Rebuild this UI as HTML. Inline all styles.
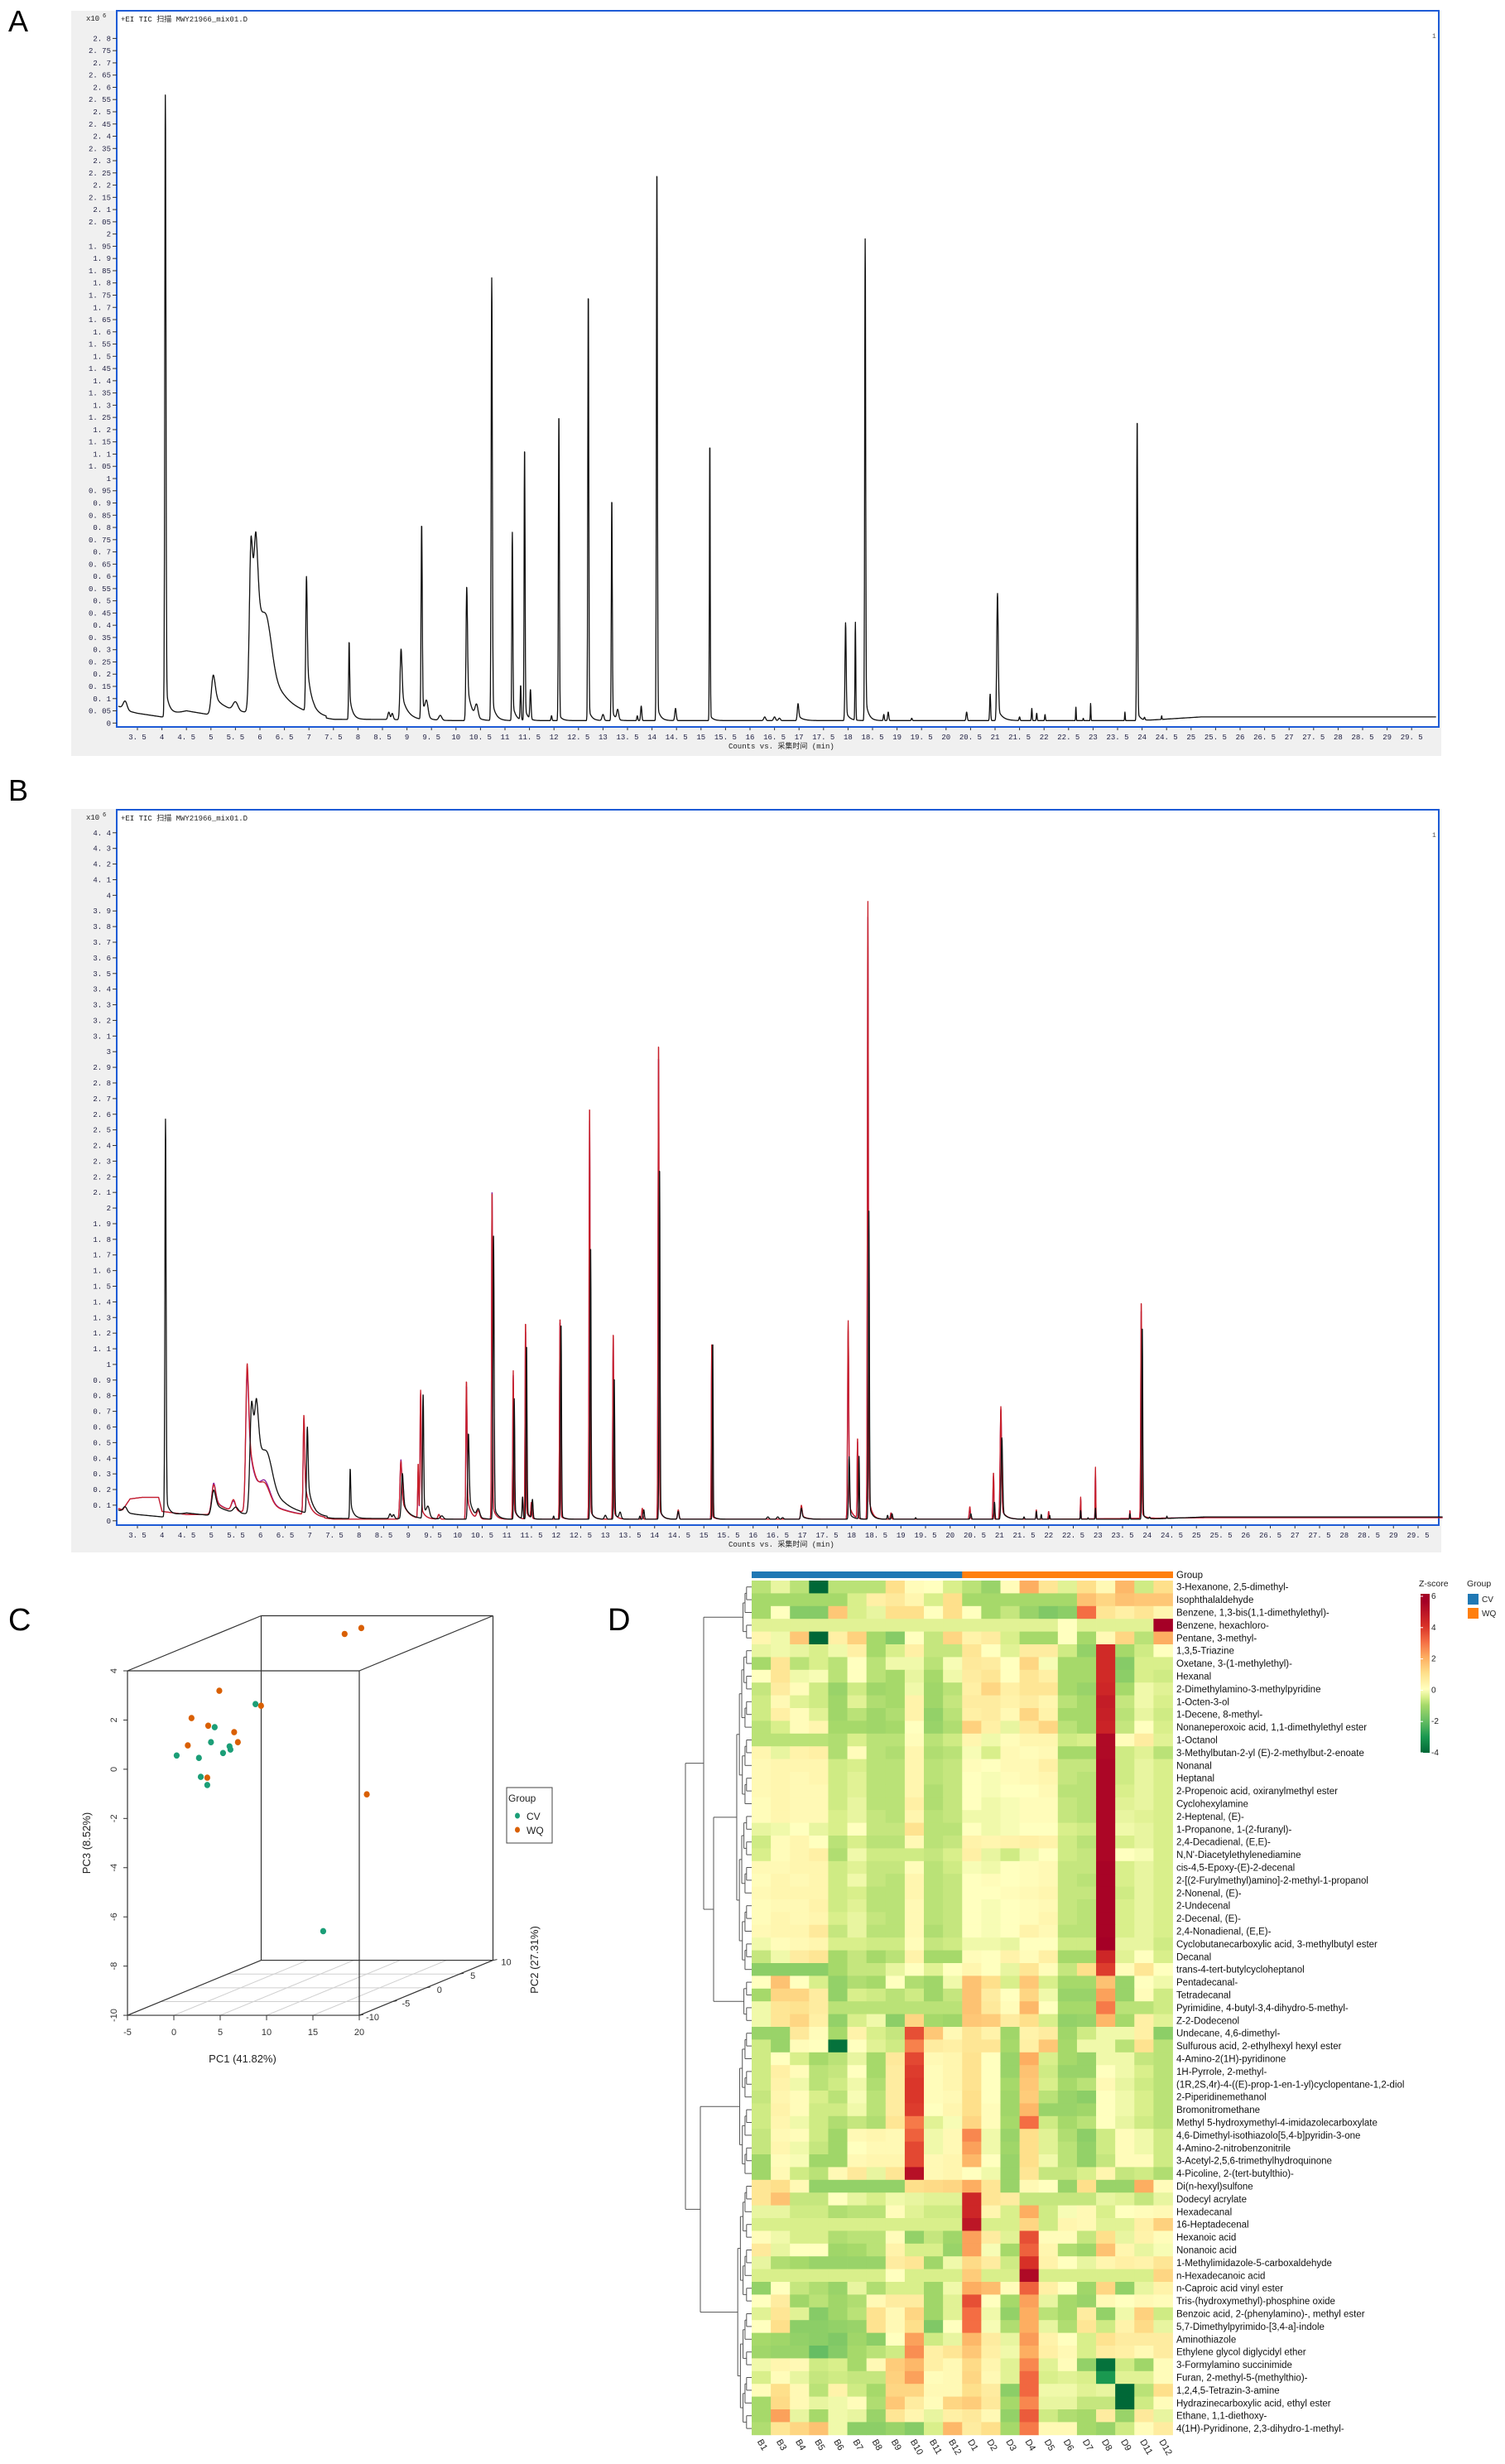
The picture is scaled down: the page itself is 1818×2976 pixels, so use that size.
<!DOCTYPE html>
<html><head><meta charset="utf-8"><style>
html,body{margin:0;padding:0;background:#fff;}
svg{display:block;}
text{font-family:"Liberation Sans",sans-serif;}
.mono{font-family:"Liberation Mono","Noto Sans CJK SC",monospace;}
.narrow{font-family:"Liberation Sans Narrow","Liberation Sans",sans-serif;}
</style></head><body>
<svg id="fig" xmlns="http://www.w3.org/2000/svg" width="1818" height="2976" viewBox="0 0 1818 2976">
<defs>
<linearGradient id="zgrad" x1="0" y1="1" x2="0" y2="0">
<stop offset="0" stop-color="#006837"/><stop offset="0.1" stop-color="#1a9850"/><stop offset="0.2" stop-color="#66bd63"/><stop offset="0.3" stop-color="#a6d96a"/><stop offset="0.35" stop-color="#d9ef8b"/><stop offset="0.4" stop-color="#ffffbf"/><stop offset="0.5" stop-color="#fee08b"/><stop offset="0.6" stop-color="#fdae61"/><stop offset="0.7" stop-color="#f46d43"/><stop offset="0.8" stop-color="#d73027"/><stop offset="0.95" stop-color="#a50026"/><stop offset="1" stop-color="#a50026"/>
</linearGradient>
</defs>
<text x="10" y="38" font-size="36">A</text>
<text x="10" y="967" font-size="36">B</text>
<text x="10" y="1969" font-size="38">C</text>
<text x="734" y="1969" font-size="38">D</text>
</svg>
<script>
// ---------- Chromatogram data (A & B) ----------
const blackBaseT=[3.1,3.3,3.5,4.0,4.5,4.95,5.3,5.7,6.5,6.85,7.5,8.5,10,12,14,16,18,20,22,24,25.2,30.1];
const blackBaseV=[0.07,0.05,0.04,0.025,0.05,0.035,0.04,0.04,0.04,0.03,0.015,0.015,0.01,0.01,0.01,0.01,0.01,0.01,0.01,0.01,0.025,0.025];
const blackPeakT=[3.25,4.07,5.05,5.5,5.82,5.92,6.15,6.95,7.82,8.63,8.7,8.88,9.3,9.4,9.68,10.22,10.42,10.73,11.15,11.32,11.4,11.52,11.95,12.1,12.7,13.0,13.18,13.3,13.7,13.78,14.1,14.48,15.18,16.3,16.5,16.6,16.98,17.95,18.15,18.35,18.73,18.82,19.3,20.42,20.9,21.05,21.5,21.75,21.85,22.02,22.65,22.8,22.95,23.65,23.9,24.05,24.4];
const blackPeakH=[0.035,2.54,0.16,0.035,0.7,0.5,0.2,0.55,0.32,0.03,0.025,0.29,0.8,0.06,0.02,0.55,0.05,1.81,0.77,0.14,1.12,0.12,0.02,1.26,1.76,0.025,0.91,0.04,0.02,0.06,2.27,0.05,1.15,0.015,0.015,0.01,0.07,0.4,0.4,1.97,0.025,0.035,0.01,0.035,0.11,0.52,0.015,0.05,0.03,0.025,0.055,0.01,0.07,0.035,1.24,0.01,0.015];
const blackPeakW=[0.04,0.012,0.04,0.05,0.035,0.04,0.1,0.015,0.01,0.02,0.02,0.02,0.012,0.03,0.03,0.015,0.03,0.012,0.01,0.01,0.01,0.012,0.01,0.01,0.01,0.02,0.01,0.02,0.01,0.012,0.01,0.015,0.008,0.02,0.02,0.02,0.015,0.012,0.008,0.01,0.01,0.012,0.01,0.012,0.01,0.015,0.01,0.008,0.008,0.008,0.006,0.006,0.006,0.006,0.01,0.01,0.006];
const blackPeakTail=[0,0.05,0.5,0,0.5,0.6,0.3,0.4,0.35,0,0,0.4,0.1,0,0,0.3,0,0.05,0.1,0,0.05,0,0,0.02,0.03,0,0.05,0,0,0,0.03,0,0.02,0,0,0,0.3,0.1,0,0.05,0,0,0,0,0,0.1,0,0,0,0,0,0,0,0,0.03,0,0];
const redBaseT=[3.1,3.2,3.35,3.6,3.93,4.0,4.5,5.0,5.6,6.5,6.85,7.5,10,14,18,22,25.2,30.1];
const redBaseV=[0.08,0.07,0.14,0.15,0.15,0.06,0.04,0.04,0.05,0.04,0.03,0.01,0.01,0.01,0.01,0.01,0.02,0.02];
const redPeakT=[5.05,5.45,5.73,6.1,6.88,8.85,9.2,9.25,9.62,10.18,10.42,10.7,11.13,11.38,11.5,12.08,12.68,13.16,13.75,14.08,14.48,15.16,16.98,17.93,18.12,18.33,18.8,20.4,20.88,21.03,21.75,22.0,22.65,22.95,23.65,23.88];
const redPeakH=[0.19,0.07,0.95,0.12,0.64,0.37,0.35,0.82,0.03,0.89,0.05,2.12,0.95,1.27,0.1,1.3,2.67,1.2,0.07,3.08,0.06,1.15,0.09,1.27,0.52,3.95,0.04,0.08,0.3,0.72,0.06,0.05,0.14,0.33,0.05,1.4];
const purplePeakH=[0.2,0.06,0.9,0.14,0.62,0.38,0.3,0.8,0.03,0.86,0.05,2.13,0.92,1.22,0.1,1.28,2.6,1.18,0.06,3.0,0.05,1.12,0.08,1.2,0.5,3.85,0.04,0.07,0.28,0.7,0.05,0.05,0.13,0.3,0.05,1.35];
const redPeakW=[0.04,0.04,0.03,0.1,0.015,0.02,0.01,0.012,0.02,0.012,0.03,0.01,0.01,0.01,0.012,0.01,0.01,0.01,0.012,0.01,0.015,0.008,0.015,0.012,0.008,0.01,0.012,0.012,0.01,0.015,0.008,0.008,0.006,0.006,0.006,0.01];
const redPeakTail=[0.5,0,0.6,0.3,0.4,0.4,0,0.1,0,0.2,0,0.05,0.1,0.05,0,0.02,0.03,0.05,0,0.03,0,0.02,0.3,0.1,0,0.05,0,0,0,0.1,0,0,0,0,0,0.03];
const yTicksA=[]; for(let i=0;i<=56;i++) yTicksA.push(i*0.05);
const yTicksB=[]; for(let i=0;i<=44;i++) yTicksB.push(i*0.1);
const xTicks=[]; for(let i=0;i<=52;i++) xTicks.push(3.5+i*0.5);

// ---------- PCA data ----------
const pcaGroup=['WQ','WQ','WQ','WQ','WQ','WQ','WQ','WQ','WQ','WQ','WQ','CV','CV','CV','CV','CV','CV','CV','CV','CV','CV','CV'];
const pcaPC1=[4.0,5.8,13.6,1.3,5.8,-1.7,0.1,2.9,3.3,-2.1,0.0,5.2,0.8,0.4,2.4,2.5,1.7,-3.3,-0.9,-0.7,0.0,8.9];
const pcaPC2=[10,10,0,-5,-5,-5,-5,-5,-5,-5,-5,-5,-5,-5,-5,-5,-5,-5,-5,-5,-5,0];
const pcaPC3=[3.26,3.5,-2.14,2.63,2.02,1.52,1.21,0.95,0.54,0.41,-0.9,2.09,1.15,0.54,0.37,0.24,0.1,0.0,-0.1,-0.87,-1.2,-7.7];
const pc1Ticks=[-5,0,5,10,15,20];
const pc2Ticks=[-10,-5,0,5,10];
const pc3Ticks=[4,2,0,-2,-4,-6,-8,-10];

// ---------- Heatmap data ----------
const hmCols=['B1','B3','B4','B5','B6','B7','B8','B9','B10','B11','B12','D1','D2','D3','D4','D5','D6','D7','D8','D9','D11','D12'];
const hmGroups=['CV','CV','CV','CV','CV','CV','CV','CV','CV','CV','CV','WQ','WQ','WQ','WQ','WQ','WQ','WQ','WQ','WQ','WQ','WQ'];
const hmRows=['3-Hexanone, 2,5-dimethyl-','Isophthalaldehyde','Benzene, 1,3-bis(1,1-dimethylethyl)-','Benzene, hexachloro-','Pentane, 3-methyl-','1,3,5-Triazine','Oxetane, 3-(1-methylethyl)-','Hexanal','2-Dimethylamino-3-methylpyridine','1-Octen-3-ol','1-Decene, 8-methyl-','Nonaneperoxoic acid, 1,1-dimethylethyl ester','1-Octanol','3-Methylbutan-2-yl (E)-2-methylbut-2-enoate','Nonanal','Heptanal','2-Propenoic acid, oxiranylmethyl ester','Cyclohexylamine','2-Heptenal, (E)-','1-Propanone, 1-(2-furanyl)-','2,4-Decadienal, (E,E)-','N,N\'-Diacetylethylenediamine','cis-4,5-Epoxy-(E)-2-decenal','2-[(2-Furylmethyl)amino]-2-methyl-1-propanol','2-Nonenal, (E)-','2-Undecenal','2-Decenal, (E)-','2,4-Nonadienal, (E,E)-','Cyclobutanecarboxylic acid, 3-methylbutyl ester','Decanal','trans-4-tert-butylcycloheptanol','Pentadecanal-','Tetradecanal','Pyrimidine, 4-butyl-3,4-dihydro-5-methyl-','Z-2-Dodecenol','Undecane, 4,6-dimethyl-','Sulfurous acid, 2-ethylhexyl hexyl ester','4-Amino-2(1H)-pyridinone','1H-Pyrrole, 2-methyl-','(1R,2S,4r)-4-((E)-prop-1-en-1-yl)cyclopentane-1,2-diol','2-Piperidinemethanol','Bromonitromethane','Methyl 5-hydroxymethyl-4-imidazolecarboxylate','4,6-Dimethyl-isothiazolo[5,4-b]pyridin-3-one','4-Amino-2-nitrobenzonitrile','3-Acetyl-2,5,6-trimethylhydroquinone','4-Picoline, 2-(tert-butylthio)-','Di(n-hexyl)sulfone','Dodecyl acrylate','Hexadecanal','16-Heptadecenal','Hexanoic acid','Nonanoic acid','1-Methylimidazole-5-carboxaldehyde','n-Hexadecanoic acid','n-Caproic acid vinyl ester','Tris-(hydroxymethyl)-phosphine oxide','Benzoic acid, 2-(phenylamino)-, methyl ester','5,7-Dimethylpyrimido-[3,4-a]-indole','Aminothiazole','Ethylene glycol diglycidyl ether','3-Formylamino succinimide','Furan, 2-methyl-5-(methylthio)-','1,2,4,5-Tetrazin-3-amine','Hydrazinecarboxylic acid, ethyl ester','Ethane, 1,1-diethoxy-','4(1H)-Pyridinone, 2,3-dihydro-1-methyl-'];
const hmValues=[
[-0.8,-0.3,-0.8,-4,-0.8,-0.8,-0.8,1,0.1,0,-0.5,-0.8,-1.2,0.1,2,0.8,-0.4,1,0.2,1.8,-0.6,1],
[-1,-1,-1,-1,-1,-0.5,0.5,0.7,0.3,-0.5,1,-1,-1,-1,-1,-1,-1,1.6,1.2,1.6,1.5,1.5],
[-1,0,-1.5,-1.5,1.5,-0.5,-0.3,1,1,0,1,0,-1,-0.7,-1.2,-1.6,-1.4,3,0.8,0.5,0.8,0.3],
[-0.4,-0.4,-0.4,-0.4,-0.4,-0.4,-0.4,-0.4,-0.4,-0.4,-0.4,-0.4,-0.4,-0.4,-0.4,-0.4,0,-0.4,-0.4,-0.4,-0.4,5.8],
[0.3,-0.2,1.5,-4,0.5,1.3,-1,-1.5,0,-0.7,1.2,0.4,0.6,-0.5,-1,-1,0,-1,0.2,1.2,-0.8,2],
[-0.3,-0.2,-0.3,-0.5,-0.2,0.5,-1,-0.5,0.5,-0.7,-0.7,0.8,0,-0.4,0.6,0.6,-0.6,-1.3,4.2,-1,-0.6,0],
[-1,0.8,-0.8,-0.5,-0.8,0,-0.8,-0.2,-0.2,-0.8,-0.1,0.7,0.6,0,1.2,-0.1,-1,-1,4.2,-1.5,-0.5,-0.5],
[0,0.8,-0.2,-0.1,-0.8,0,-0.8,-1,-0.3,-1,-0.2,0.6,0.8,0,0.8,0.5,-1,-1,4.2,-1.4,-0.5,-0.6],
[-0.7,0.6,0.1,-0.6,-1.2,-0.6,-1.1,-1,-0.2,-1.1,-0.8,0.5,1.2,0.5,0.8,0.8,-1,-1.2,4.3,-1,-0.2,-0.4],
[-0.6,0.2,-0.4,-0.6,-1.1,-0.4,-0.9,-1,0.4,-1.1,-0.7,0.6,0.6,0.4,0.6,0.3,-0.8,-1,4.6,-0.7,-0.2,-0.5],
[-0.6,0.5,0.1,-0.4,-1.1,-0.8,-1.1,-0.9,0.4,-1.3,-0.8,0.5,0.6,0.2,1.2,0.4,-1,-1,4.5,-0.8,-0.3,-0.6],
[-0.8,-0.5,0.1,0.3,-1,-1,-1.1,-1,0,-1.2,-0.9,1.3,0.5,-0.3,0.7,1.2,-0.8,-1,4.4,-0.7,0,-0.5],
[-0.8,-0.8,-0.8,-0.8,-0.9,-0.5,-0.8,-0.8,0.1,-0.8,-0.6,0.3,-0.2,0.1,0.3,0.3,-0.6,-0.5,5.2,0.1,0.6,-0.4],
[0.3,-0.3,0.4,0.5,-0.9,0.1,-0.8,-0.9,0.3,-0.9,-0.8,-0.1,-0.5,0.2,0.1,0.2,-1,-1,5.2,-0.6,-0.4,-0.8],
[0.2,0.3,0.3,0.3,-0.6,-0.5,-0.8,-0.8,0.3,-0.8,-0.7,0.1,0,0.2,0.2,0.5,-0.7,-0.7,5.3,-0.6,-0.3,-0.5],
[0.2,0.3,0.2,0.3,-0.6,-0.4,-0.8,-0.8,0.3,-0.8,-0.7,0,-0.1,0.1,0.2,0.3,-0.7,-0.8,5.3,-0.6,-0.3,-0.5],
[0.2,0.3,0.2,0.2,-0.6,-0.4,-0.8,-0.8,0.3,-0.9,-0.7,0,-0.1,0,0,0.2,-0.8,-0.8,5.3,-0.5,-0.3,-0.5],
[0.1,0.3,0.2,0.2,-0.6,-0.3,-0.8,-0.8,0.5,-0.9,-0.7,0,-0.2,-0.1,0.1,0.1,-0.7,-0.8,5.3,-0.4,-0.3,-0.5],
[0.1,0.3,0.2,0.2,-0.5,-0.3,-0.7,-0.8,0.3,-0.8,-0.7,-0.2,-0.2,-0.1,0.1,0.1,-0.7,-0.8,5.3,-0.3,-0.4,-0.5],
[-0.3,-0.2,0,-0.3,-0.5,0,-0.7,-0.7,0.9,-0.8,-0.8,0,-0.2,-0.1,0,0,-0.5,-0.6,5.3,-0.2,-0.3,-0.5],
[-0.6,0.1,0.3,0,-0.8,-0.5,-0.8,-0.8,0.2,-0.8,-0.7,0.4,0.3,0.4,0.5,0.4,-0.6,-0.8,5.3,-0.5,-0.3,-0.5],
[-0.5,0.1,0.3,0.5,-0.9,-0.2,-0.6,-0.6,-0.6,-0.7,-0.5,0.5,-0.3,-0.6,-0.2,0,-0.6,-0.7,5.3,0,-0.1,-0.5],
[0.2,0.2,0.3,0.3,-0.6,-0.4,-0.7,-0.7,0.1,-0.8,-0.6,-0.1,-0.2,0,0.1,0.2,-0.7,-0.7,5.4,-0.5,-0.3,-0.5],
[0.1,0.3,0.2,0.3,-0.6,-0.2,-0.7,-0.8,0.3,-0.8,-0.7,0,0.1,0,0.1,0.2,-0.7,-0.8,5.4,-0.5,-0.3,-0.5],
[0.2,0.3,0.3,0.3,-0.6,-0.5,-0.8,-0.8,0.3,-0.8,-0.7,0,0,0.1,0.2,0.3,-0.7,-0.7,5.4,-0.6,-0.3,-0.5],
[0.1,0.2,0.2,0.4,-0.6,-0.4,-0.8,-0.8,0.2,-0.8,-0.7,0,-0.1,0,0.1,0.2,-0.7,-0.8,5.4,-0.5,-0.3,-0.5],
[0.1,0.3,0.2,0.3,-0.5,-0.3,-0.7,-0.8,0.2,-0.8,-0.7,0,-0.1,0,0.1,0.3,-0.7,-0.8,5.4,-0.5,-0.3,-0.5],
[0.2,0.3,0.3,0.7,-0.7,-0.3,-0.8,-0.8,0.2,-0.9,-0.7,0,-0.1,0,0.4,0.2,-0.8,-0.8,5.4,-0.5,-0.3,-0.5],
[-0.2,0.1,0.2,0.3,-0.5,-0.5,-0.6,-0.6,0.1,-0.7,-0.6,-0.2,-0.2,-0.3,0,0,-0.6,-0.6,5.6,-0.3,-0.3,-0.6],
[-0.7,-0.2,0.6,0.8,-1,-0.7,-1,-0.8,0.4,-1,-1,0.1,0,0.4,0.1,0.5,-1,-1,4.3,-0.4,0,-0.5],
[-1.4,-1.4,-1.4,-1.4,-1,-0.7,-0.7,-0.3,0,-0.4,0,0.3,0,-0.3,0.8,0.1,-0.7,1,3.8,0.1,0.8,0],
[0,1.6,0,-0.5,-1.3,-0.9,-1,0,-0.9,-1.1,-0.2,1.6,1,-0.5,1.5,-0.5,-1,-1,1.6,-1.2,0,-0.2],
[-1,1.2,1.2,0.6,-1.3,-0.5,-0.6,-0.8,-0.6,-1.1,-0.7,1.6,0.6,0,1.2,-0.2,-1.2,-1.2,2.2,-1.2,0.1,-0.6],
[-0.2,0.8,0.9,0.6,-0.8,-0.8,-0.8,-0.8,-0.8,-0.8,-0.8,1.6,0.7,0.1,1.8,0,-1,-1,2.8,-0.8,-0.8,-0.6],
[-0.2,0.8,1.2,0.5,-1.3,-0.5,-0.2,-1.4,1.2,-1,-1.1,1.5,1.4,0.6,1,-0.5,-1.3,-1.2,1.8,-1,0.5,-0.4],
[-1.2,-1.2,0.7,0.1,-1,0.4,-0.5,-0.7,3.5,1.5,0.2,0.8,0.4,-1.1,0.4,0.6,-1.1,-0.6,-0.2,-0.2,0.5,-1.4],
[-0.6,-1.2,0.1,0,-3.8,0,-0.4,-0.6,2.7,0.6,0.5,0.8,0.8,-1,0.5,1.5,-1,-0.2,-0.2,-0.8,0.9,-0.8],
[-0.6,0,-0.5,-1,-0.8,-0.3,-1,0.7,3.6,0.2,0.3,0.9,0,-1.2,2,-0.5,-1,-1.2,-0.2,-0.2,-0.7,-0.8],
[-0.6,0.5,0.1,-0.8,-0.7,0,-1,0.6,3.8,0.1,0.3,0.9,0,-1.2,1.6,-0.6,-1.2,-1.2,0,-0.2,-0.5,-0.8],
[-0.6,0.4,-0.2,-0.8,-0.6,-0.2,-0.9,0.6,3.9,0.1,0.3,0.9,0,-1,1.5,-0.5,-1,-0.8,0.2,-0.3,-0.6,-0.8],
[-0.7,0.3,0.1,-0.5,-0.8,-0.1,-0.8,0.6,3.9,0.1,0.2,1,0,-1.1,1.4,-0.8,-1.2,-1.4,0,-0.2,-0.5,-0.8],
[-0.6,0.4,0.1,-0.6,-0.6,-0.2,-0.8,0.6,3.8,0,0.3,1,0.1,-1.1,1.8,-1.2,-1.2,-1.1,0,-0.2,-0.5,-0.8],
[-0.6,0.3,-0.2,-0.6,-0.9,-0.7,-0.9,0.8,2.8,-0.4,-0.1,1.2,0.1,-1,3.0,-0.6,-1,-0.8,0,-0.3,-0.6,-0.8],
[-0.7,0.2,0.1,-0.6,-1.1,0.2,0.3,0.2,3.2,-0.2,0.2,2.6,-0.2,-1.2,1,-0.4,-0.9,-1.4,-0.6,0.1,-0.2,-0.6],
[-0.7,0.3,-0.2,-0.7,-1.1,0,0.2,0.2,3.6,-0.2,0.2,2.2,-0.2,-1.1,1,-0.4,-0.8,-1.3,-0.6,0.1,-0.2,-0.6],
[-1.1,0.1,-0.1,-1.1,-1.1,0.2,0.3,0.3,3.6,0.2,0.3,1.8,0,-1.2,1,-0.2,-0.8,-1.3,-0.7,0.1,0.1,-0.6],
[-1.1,0.2,-0.6,-0.8,0.2,0.7,-0.3,0.8,5,0.2,0.3,0,-0.2,-1.2,0.8,-0.7,-0.7,-0.5,0.3,-0.7,-0.6,-0.9],
[0.8,1.0,0.2,-1.3,-1.3,-1.3,-1.3,-1.3,1.0,1.1,1.2,2.0,0.8,-1.2,0.2,0,-1.2,1.0,-1.2,-1.2,2,0.1],
[0.8,1.6,-0.7,-0.7,0,-0.3,-0.5,-0.2,-0.3,-0.4,-0.4,4.3,0.8,0.6,-0.7,-0.7,-0.7,-0.7,-0.3,-0.4,-0.7,-0.3],
[-0.3,-0.3,-0.6,-0.6,-0.9,-0.8,-0.8,0.1,-0.4,-0.6,-0.6,4.3,0.3,-0.5,2,-0.6,-0.1,0.2,-0.5,0,0.1,0.2],
[-0.5,-0.5,-0.5,-0.5,-0.5,-0.5,-0.5,-0.5,-0.5,-0.5,-0.5,4.8,-0.5,-0.5,1.2,-0.6,0.3,0.2,-0.4,-0.4,0.5,1.3],
[0.1,-0.2,-0.5,-0.5,-0.9,-0.8,-0.8,0.1,-1.3,-0.7,-1.1,2.2,0.6,-0.4,3.5,0.1,0.1,-0.7,1.0,-0.3,0.4,0.1],
[0.7,-0.3,0,0,-1.1,-1,-0.8,0.4,-0.5,-0.5,-1.2,2.2,-0.1,-1,3.2,0.3,-0.9,-1.1,1.6,0.3,-0.3,-0.1],
[-0.3,-0.9,-1,-1.2,-1.2,-1.2,-1.2,0.6,0.8,-1.1,-0.2,1.1,0.6,-0.6,4,0.4,0,-0.3,0.3,0.5,0.4,0.8],
[-0.5,-0.5,-0.5,-0.5,-0.5,-0.5,-0.5,0,-0.5,-0.5,-0.5,1.4,-0.5,-0.5,5.2,-0.5,-0.5,-0.5,-0.5,-0.5,-0.5,1.2],
[-1.3,0,-0.7,-0.9,-1.2,-0.3,-0.9,-0.5,-0.5,-1.1,-0.2,2,1.7,0.1,3.2,0.5,0,-1.1,1.2,-1.3,-0.3,0.4],
[0,0.6,-1.1,-0.8,-1.1,-0.9,0.2,0.6,0.6,-1.1,-0.4,3.5,0,-1,2.2,-0.3,-1,-1.2,0.2,0,0.2,0.1],
[-0.4,0.8,-0.4,-1.5,-1.1,-0.8,0.9,0.2,1.2,-1.1,-0.4,3,-0.2,-1.3,2,-0.8,-1,0.6,-1.3,-0.2,1.3,-0.6],
[0,1,-1.4,-1.4,-1.3,-1.2,0.9,0.2,1,-1.6,0,3,-0.1,-0.9,2,-0.3,-0.9,0.8,-0.6,0.4,1.1,-0.3],
[-1,-1.1,-1.3,-1.4,-1.6,-1.1,-1.4,0,2.2,-0.6,-0.3,1.8,0.6,-0.3,2.3,0.4,0,-0.5,0.9,0.6,0.6,0.6],
[-1.1,-1.2,-1.2,-2,-1.5,-1,-0.8,-0.6,2.5,0.5,0.8,1.5,0.5,-0.2,2,0.5,0.2,-0.5,0.6,0.5,0.2,0.6],
[-0.2,0.3,0.2,-0.6,-0.5,-1,0.2,1.4,1.8,0.5,0.2,1.1,0.3,-0.4,2.6,-0.4,0.1,-1.3,-3.8,-0.6,-1.1,0.1],
[-0.5,0.1,-0.3,-0.7,-0.6,-0.7,-0.7,1.3,2.2,0.1,0.2,1.2,0.2,-0.4,3.1,-0.5,-0.4,-0.5,-3,-0.4,-0.4,0.1],
[0.1,1,0.2,-0.8,0.4,-0.6,-1,1.2,1.2,0.2,0.2,1,0.6,-1.4,3.1,-0.2,-0.2,-0.4,-0.3,-4,-0.8,1],
[-1,1.1,0.2,-0.3,-0.2,0.1,-0.9,1.5,0.6,0.1,1.2,1.4,0.7,-1,2.6,-0.3,-0.3,-0.7,-0.7,-4.3,-0.6,0.1],
[-1,2.2,-0.3,-1,-0.2,-0.3,-1.2,0.8,0.3,-0.3,0.5,0.7,0.2,-1.3,3.3,-0.6,-0.9,-1,0.6,-1.2,0.7,-0.3],
[-0.9,0.8,1.2,1.6,-0.2,-1.4,-1.4,-1.2,-1.5,-0.5,1.8,0.6,1.0,-1,2.8,0.2,0.2,-1,-1.2,-0.6,0.1,0.6]
];
const zTicks=[6,4,2,0,-2,-4];

// ---------- helpers ----------
const NS='http://www.w3.org/2000/svg';
const svg=document.getElementById('fig');
function mk(tag,attrs,parent){const e=document.createElementNS(NS,tag);for(const k in attrs)e.setAttribute(k,attrs[k]);(parent||svg).appendChild(e);return e;}
function txt(x,y,s,attrs,parent){const e=mk('text',Object.assign({x:x,y:y},attrs||{}),parent);e.textContent=s;return e;}
function fmt(v){const s=(Math.round(v*100)/100).toString();return s.replace('.','. ');}
function interp(xs,ys,t){if(t<=xs[0])return ys[0];for(let i=1;i<xs.length;i++){if(t<=xs[i]){const f=(t-xs[i-1])/(xs[i]-xs[i-1]);return ys[i-1]+f*(ys[i]-ys[i-1]);}}return ys[ys.length-1];}
function signal(t,bT,bV,pT,pH,pW,pTail){let v=interp(bT,bV,t);for(let i=0;i<pT.length;i++){const d=t-pT[i];if(Math.abs(d)>1.2)continue;const s=pW[i];const g=Math.exp(-d*d/(2*s*s));if(d<0){v+=pH[i]*g;}else{const tau=Math.max(0.06,s*6);v+=pH[i]*((1-pTail[i])*g+pTail[i]*Math.exp(-d/tau)*Math.min(1,d/(s*1.5)+g));}}return v;}

// ---------- Chromatogram panel ----------
function chrom(cfg){
  const g=mk('g',{});
  
  
  const bg=mk('rect',{x:86,y:cfg.gTop,width:1655,height:cfg.gBot-cfg.gTop,fill:'#f0f0f0'},g);
  
  
  const plot=mk('rect',{x:141,y:cfg.fTop,width:1597,height:cfg.fBot-cfg.fTop,fill:'#fff',stroke:'#1e5bd6','stroke-width':2},g);
  
  
  const X=t=>166+(t-3.5)*cfg.ppm;
  const Y=v=>cfg.y0-v*cfg.ppu;
  // y ticks
  cfg.yTicks.forEach(v=>{
    const y=Y(v);
    const tk=mk('line',{x1:136,y1:y,x2:141,y2:y,stroke:'#333','stroke-width':1},g);
    
    
    const l=txt(134,y+3,fmt(v),{'font-size':9,'text-anchor':'end',fill:'#222244',class:'mono'},g);
    
    
  });
  xTicks.forEach(t=>{
    const x=X(t);
    const tk=mk('line',{x1:x,y1:cfg.fBot,x2:x,y2:cfg.fBot+4,stroke:'#333','stroke-width':1},g);
    
    
    const l=txt(x,cfg.fBot+15,fmt(t),{'font-size':9,'text-anchor':'middle',fill:'#222244',class:'mono'},g);
    
    
  });
  const ax=txt(880,cfg.fBot+26,'Counts vs. 采集时间 (min)',{'font-size':9,fill:'#222',class:'mono'},g);
  
  
  const sc=txt(104,cfg.fTop+12,'x10',{'font-size':9,fill:'#222',class:'mono'},g);
  
  
  const sc2=txt(124,cfg.fTop+8,'6',{'font-size':7,fill:'#222',class:'mono'},g);
  
  
  const ti=txt(146,cfg.fTop+13,'+EI TIC 扫描 MWY21966_mix01.D',{'font-size':9,fill:'#222',class:'mono'},g);
  
  
  const one=txt(1730,cfg.fTop+33,'1',{'font-size':8,fill:'#555',class:'mono'},g);
  
  
  cfg.traces.forEach(tr=>{
    let pts=[];
    for(let t=3.11;t<=30.0;t+=0.004){
      let v=signal(t,tr.bT,tr.bV,tr.pT,tr.pH,tr.pW,tr.pTail);
      pts.push(X(t).toFixed(1)+','+Y(v).toFixed(1));
    }
    const pl=mk('polyline',{points:pts.join(' '),fill:'none',stroke:tr.color,'stroke-width':1.3,'stroke-linejoin':'round'},g);
    
    
  });
  const xl=mk('line',{x1:141,y1:cfg.fBot,x2:1738,y2:cfg.fBot,stroke:'#1e5bd6','stroke-width':2},g);
  
  
}
const blackTrace={name:'trace-sample-black',color:'#111',bT:blackBaseT,bV:blackBaseV,pT:blackPeakT,pH:blackPeakH,pW:blackPeakW,pTail:blackPeakTail};
chrom({name:'chromatogram-a',gTop:13,gBot:913,fTop:13,fBot:878,y0:873.3,ppu:(873.3-46.4)/2.8,ppm:59.2,yTicks:yTicksA,traces:[blackTrace]});
chrom({name:'chromatogram-b',gTop:977,gBot:1875,fTop:978,fBot:1842,y0:1836.8,ppu:(1836.8-1005.8)/4.4,ppm:59.5,yTicks:yTicksB,traces:[
 {name:'trace-sample-purple',color:'#8a1a9a',bT:redBaseT,bV:redBaseV,pT:redPeakT,pH:purplePeakH,pW:redPeakW,pTail:redPeakTail},
 {name:'trace-sample-red',color:'#c8202a',bT:redBaseT,bV:redBaseV,pT:redPeakT,pH:redPeakH,pW:redPeakW,pTail:redPeakTail},
 blackTrace]});

// ---------- PCA 3D ----------
(function(){
  const g=mk('g',{});
  
  
  const P=(a,b,c)=>{const f=(b+10)/20;return [154+(a+5)*11.2+f*161.5, 2018+(4-c)*29.72-f*66.5];};
  // floor grid
  [-5,0,5].forEach(b=>{const p1=P(-5,b,-10),p2=P(20,b,-10);const l=mk('line',{x1:p1[0],y1:p1[1],x2:p2[0],y2:p2[1],stroke:'#cfcfcf','stroke-width':1},g);});
  [0,5,10,15].forEach(a=>{const p1=P(a,-10,-10),p2=P(a,10,-10);const l=mk('line',{x1:p1[0],y1:p1[1],x2:p2[0],y2:p2[1],stroke:'#cfcfcf','stroke-width':1},g);});
  const corners=[[-5,-10,4],[20,-10,4],[20,-10,-10],[-5,-10,-10],[-5,10,4],[20,10,4],[20,10,-10],[-5,10,-10]];
  const edges=[[0,1],[1,2],[2,3],[3,0],[4,5],[5,6],[6,7],[7,4],[0,4],[1,5],[2,6],[3,7]];
  edges.forEach(e=>{const a=P(...corners[e[0]]),b=P(...corners[e[1]]);const l=mk('line',{x1:a[0],y1:a[1],x2:b[0],y2:b[1],stroke:'#333','stroke-width':1.2},g);});
  pc1Ticks.forEach(a=>{const p=P(a,-10,-10);const l=mk('line',{x1:p[0],y1:p[1],x2:p[0],y2:p[1]+6,stroke:'#333'},g);const t=txt(p[0],p[1]+24,String(a),{'font-size':11,'text-anchor':'middle',fill:'#333',class:'narrow'},g);});
  pc3Ticks.forEach(c=>{const p=P(-5,-10,c);const l=mk('line',{x1:p[0]-5,y1:p[1],x2:p[0],y2:p[1],stroke:'#333'},g);const t=txt(0,0,String(c),{'font-size':11,'text-anchor':'middle',fill:'#333',class:'narrow',transform:'translate('+(p[0]-13)+','+p[1]+') rotate(-90)'},g);});
  pc2Ticks.forEach(b=>{const p=P(20,b,-10);const l=mk('line',{x1:p[0],y1:p[1],x2:p[0]+5,y2:p[1]-1,stroke:'#333'},g);const t=txt(p[0]+16,p[1]+6,String(b),{'font-size':11,'text-anchor':'middle',fill:'#333',class:'narrow'},g);});
  const t1=txt(293,2491,'PC1 (41.82%)',{'font-size':13,'text-anchor':'middle',fill:'#222',class:'narrow'},g);
  const t3=txt(0,0,'PC3 (8.52%)',{'font-size':13,'text-anchor':'middle',fill:'#222',transform:'translate(109,2226) rotate(-90)'},g);
  const t2=txt(0,0,'PC2 (27.31%)',{'font-size':13,'text-anchor':'middle',fill:'#222',transform:'translate(650,2367) rotate(-90)'},g);
  for(let i=0;i<pcaPC1.length;i++){const p=P(pcaPC1[i],pcaPC2[i],pcaPC3[i]);const c=mk('ellipse',{cx:p[0],cy:p[1],rx:3.6,ry:3.8,fill:pcaGroup[i]==='CV'?'#1b9e77':'#d95f02'},g);}
  const lg=mk('g',{},g);
  mk('rect',{x:612,y:2159,width:55,height:67,fill:'#fff',stroke:'#444','stroke-width':1},lg);
  txt(614,2176,'Group',{'font-size':12,fill:'#222',class:'narrow'},lg);
  const e1=mk('ellipse',{cx:625,cy:2193,rx:3,ry:3.5,fill:'#1b9e77'},lg);
  txt(636,2198,'CV',{'font-size':12,fill:'#222'},lg);
  const e2=mk('ellipse',{cx:625,cy:2210,rx:3,ry:3.5,fill:'#d95f02'},lg);
  txt(636,2215,'WQ',{'font-size':12,fill:'#222'},lg);
})();

// ---------- Heatmap ----------
(function(){
  const g=mk('g',{});
  
  
  const x0=908,y0=1909,cw=508.5/hmCols.length,rh=15.4;
  const stops=[[-4,[0,104,55]],[-3,[26,152,80]],[-2,[102,189,99]],[-1,[166,217,106]],[-0.5,[217,239,139]],[0,[255,255,191]],[1,[254,224,139]],[2,[253,174,97]],[3,[244,109,67]],[4,[215,48,39]],[5.5,[165,0,38]],[7,[165,0,38]]];
  function col(v){if(v<=stops[0][0])return 'rgb('+stops[0][1]+')';for(let i=1;i<stops.length;i++){if(v<=stops[i][0]){const f=(v-stops[i-1][0])/(stops[i][0]-stops[i-1][0]);const a=stops[i-1][1],b=stops[i][1];return 'rgb('+a.map((c,k)=>Math.round(c+f*(b[k]-c))).join(',')+')';}}return 'rgb(165,0,38)';}
  hmGroups.forEach((gr,j)=>{const r=mk('rect',{x:x0+j*cw,y:1898,width:cw+0.5,height:8,fill:gr==='CV'?'#1f78b4':'#ff7f0e'},g);});
  const gl=txt(1421,1906,'Group',{'font-size':11.5,fill:'#111',class:'narrow'},g);
  hmValues.forEach((row,i)=>{
    row.forEach((v,j)=>{const r=mk('rect',{x:(x0+j*cw).toFixed(2),y:(y0+i*rh).toFixed(2),width:(cw+0.4).toFixed(2),height:rh+0.4,fill:col(v)},g);});
    const t=txt(1421,y0+i*rh+rh/2+4,hmRows[i],{'font-size':11.5,fill:'#111',class:'narrow'},g);
  });
  hmCols.forEach((c,j)=>{const cx=x0+(j+0.5)*cw;const t=txt(0,0,c,{'font-size':11,fill:'#222',class:'narrow',transform:'translate('+(cx-5)+','+(y0+hmValues.length*rh+8)+') rotate(60)'},g);});
  // dendrogram
  const dg=mk('g',{},g);
  function R(lo,hi,hmax){if(lo===hi)return {leaf:lo};const mid=Math.floor((lo+hi)/2);const h=Math.min(hmax,3+3.2*Math.log2(hi-lo+1));return {h:h,l:R(lo,mid,h-1.5),r:R(mid+1,hi,h-1.5)};}
  function N(h,l,r){return {h:h,l:l,r:r};}
  const tree=N(80,N(58,R(0,4,22),N(46,R(5,30,34),R(31,34,18))),N(62,R(35,46,30),R(47,66,40)));
  function draw(n){if(n.leaf!==undefined)return [x0,y0+n.leaf*rh+rh/2];const a=draw(n.l),b=draw(n.r);const x=x0-n.h;
    [[a,x],[b,x]].forEach(p=>{const l=mk('line',{x1:p[0][0],y1:p[0][1],x2:x,y2:p[0][1],stroke:'#555','stroke-width':1},dg);});
    const v=mk('line',{x1:x,y1:a[1],x2:x,y2:b[1],stroke:'#555','stroke-width':1},dg);
    return [x,(a[1]+b[1])/2];}
  draw(tree);
  // legends
  const zl=mk('g',{},g);
  txt(1714,1916,'Z-score',{'font-size':10.5,fill:'#222',class:'narrow'},zl);
  mk('rect',{x:1716,y:1925,width:11,height:192,fill:'url(#zgrad)'},zl);
  zTicks.forEach(z=>{const y=1925+(6-z)/10*189+3;const t=txt(1729,y+3,String(z),{'font-size':10,fill:'#222',class:'narrow'},zl);const l=mk('line',{x1:1716,y1:y,x2:1719,y2:y,stroke:'#fff'},zl);});
  const gg=mk('g',{},g);
  txt(1772,1916,'Group',{'font-size':10.5,fill:'#222',class:'narrow'},gg);
  const s1=mk('rect',{x:1773,y:1925,width:13,height:13,fill:'#1f78b4'},gg);
  txt(1790,1935,'CV',{'font-size':10,fill:'#222',class:'narrow'},gg);
  const s2=mk('rect',{x:1773,y:1942,width:13,height:13,fill:'#ff7f0e'},gg);
  txt(1790,1952,'WQ',{'font-size':10,fill:'#222',class:'narrow'},gg);
})();
</script>
</body></html>
